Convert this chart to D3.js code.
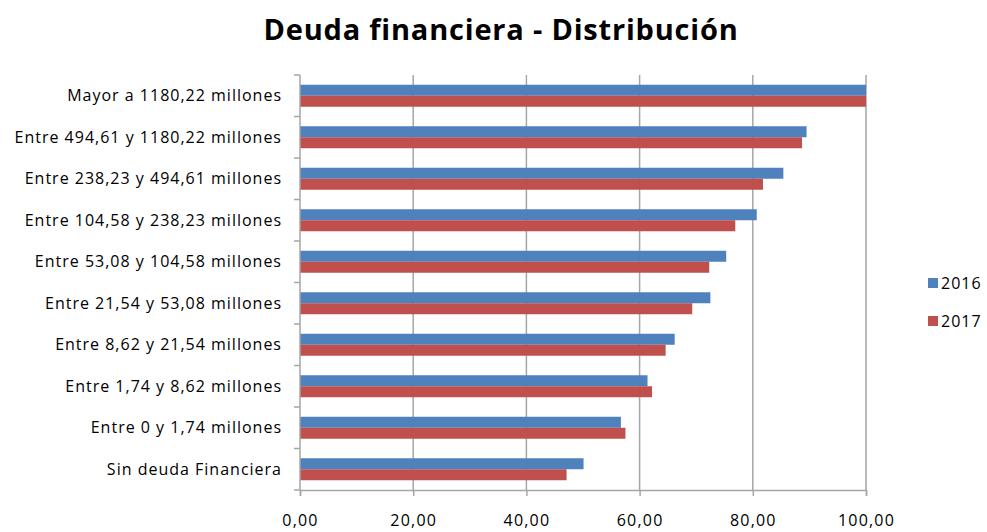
<!DOCTYPE html>
<html>
<head>
<meta charset="utf-8">
<script src="https://cdn.jsdelivr.net/npm/d3@7"></script>
<style>
  body { margin: 0; background: #fff; }
  svg { display: block; }
  text { font-family: "Open Sans", "Liberation Sans", sans-serif; fill: #000; }
</style>
</head>
<body>
<svg id="mainsvg" width="987" height="532"></svg>
<script>
let categories = [
    "Mayor a 1180,22 millones",
    "Entre 494,61 y 1180,22 millones",
    "Entre 238,23 y 494,61 millones",
    "Entre 104,58 y 238,23 millones",
    "Entre 53,08 y 104,58 millones",
    "Entre 21,54 y 53,08 millones",
    "Entre 8,62 y 21,54 millones",
    "Entre 1,74 y 8,62 millones",
    "Entre 0 y 1,74 millones",
    "Sin deuda Financiera"
];
let seriesNames = ["2016", "2017"];
let values2016 = [100, 89.5, 85.4, 80.7, 75.3, 72.5, 66.2, 61.4, 56.7, 50.1];
let values2017 = [100, 88.7, 81.8, 76.9, 72.3, 69.3, 64.6, 62.2, 57.5, 47.1];
let xTicks = [0, 20, 40, 60, 80, 100];
let colors = ["#4f81bd", "#c0504d"];

let svg = d3.select("#mainsvg");
let plotLeft = 300, plotRight = 866, plotTop = 75, plotBottom = 490;

let x = d3.scaleLinear().domain([0, 100]).range([plotLeft, plotRight]);
let y = d3.scaleBand().domain(categories).range([plotTop, plotBottom]).paddingInner(0.47).paddingOuter(0.235);
let sub = d3.scaleBand().domain(seriesNames).range([0, y.bandwidth()]);

// title
svg.append("text")
    .attr("x", 501).attr("y", 40)
    .attr("text-anchor", "middle")
    .style("font-size", "29px").style("font-weight", "bold")
    .style("letter-spacing", "0.8px")
    .text("Deuda financiera - Distribución");

// gridlines
svg.append("g").selectAll("line").data(xTicks.slice(1)).enter()
    .append("line")
    .attr("x1", d => x(d)).attr("x2", d => x(d))
    .attr("y1", plotTop).attr("y2", plotBottom)
    .attr("stroke", "#a6a6a6").attr("stroke-width", 1.5);

// bars
let rows = categories.map((c, i) => ({cat: c, vals: [values2016[i], values2017[i]]}));
let rowG = svg.append("g").selectAll("g").data(rows).enter()
    .append("g")
    .attr("transform", d => "translate(0," + y(d.cat) + ")");
rowG.selectAll("rect").data(d => d.vals.map((v, j) => ({s: seriesNames[j], v: v, c: colors[j]}))).enter()
    .append("rect")
    .attr("x", x(0))
    .attr("y", d => sub(d.s))
    .attr("width", d => x(d.v) - x(0))
    .attr("height", sub.bandwidth())
    .attr("fill", d => d.c);

// x axis
let xAxis = d3.axisBottom(x).tickValues(xTicks).tickSize(6)
    .tickFormat(d => d3.format(".2f")(d).replace(".", ","));
let xg = svg.append("g").attr("transform", "translate(0," + plotBottom + ")").call(xAxis);
xg.select(".domain").attr("stroke", "#a6a6a6").attr("stroke-width", 1.5);
xg.selectAll(".tick line").attr("stroke", "#a6a6a6").attr("stroke-width", 1.5);
xg.selectAll(".tick text").attr("y", 18).attr("dy", "1.1em")
    .style("font-size", "16px").style("letter-spacing", "1.2px")
    .style("font-family", "'Open Sans', sans-serif");

// y axis
let yEdges = d3.range(categories.length + 1).map(i => plotTop + i * (plotBottom - plotTop) / categories.length);
svg.append("line").attr("x1", plotLeft).attr("x2", plotLeft).attr("y1", plotTop).attr("y2", plotBottom)
    .attr("stroke", "#a6a6a6").attr("stroke-width", 1.5);
svg.append("g").selectAll("line").data(yEdges).enter()
    .append("line")
    .attr("x1", plotLeft - 6).attr("x2", plotLeft)
    .attr("y1", d => d).attr("y2", d => d)
    .attr("stroke", "#a6a6a6").attr("stroke-width", 1.5);
svg.append("g").selectAll("text").data(categories).enter()
    .append("text")
    .attr("x", 282)
    .attr("y", d => y(d) + y.bandwidth() / 2)
    .attr("dy", "0.35em")
    .attr("text-anchor", "end")
    .style("font-size", "16px")
    .style("letter-spacing", "1px")
    .text(d => d);

// legend
let legend = svg.append("g").selectAll("g").data(seriesNames).enter()
    .append("g")
    .attr("transform", (d, i) => "translate(928," + (283 + i * 38) + ")");
legend.append("rect").attr("x", 0).attr("y", -5).attr("width", 10).attr("height", 10)
    .attr("fill", (d, i) => colors[i]);
legend.append("text").attr("x", 13).attr("dy", "0.35em")
    .style("font-size", "16px").style("letter-spacing", "1px").text(d => d);
</script>
</body>
</html>
